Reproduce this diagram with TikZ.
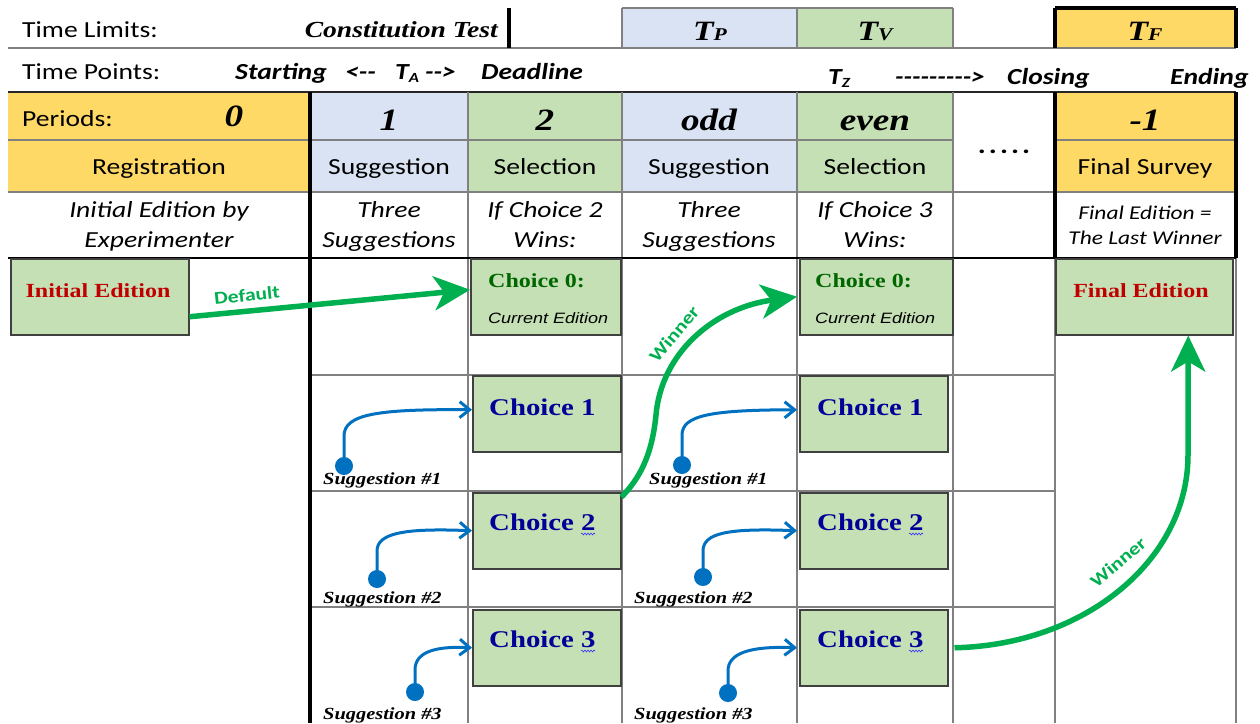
\documentclass[tikz,border=0pt]{standalone}
\usepackage{fontspec}
\usetikzlibrary{arrows.meta,decorations.pathmorphing}
\newfontfamily\calf{Carlito}[FakeStretch=1.2,Ligatures=TeXOff]
\newfontfamily\timf{Liberation Serif}[FakeStretch=1.2]
\newfontfamily\arif{Liberation Sans}[FakeStretch=1.2]
\definecolor{yel}{HTML}{FFD966}
\definecolor{lblue}{HTML}{DAE3F3}
\definecolor{lgreen}{HTML}{C5E0B4}
\definecolor{agreen}{HTML}{00B050}
\definecolor{ablue}{HTML}{0070C0}
\definecolor{navy}{HTML}{000099}
\definecolor{dgreen}{HTML}{006600}
\definecolor{dred}{HTML}{C00000}
\definecolor{gridc}{HTML}{808080}
\newcommand\fs[1]{\fontsize{#1}{#1}\selectfont}
\tikzset{
 txt/.style={inner sep=0pt, anchor=base},
 lt/.style={inner sep=0pt, anchor=base west},
 hdr/.style={txt, font=\calf\fs{23}},
 num/.style={txt, font=\timf\bfseries\itshape\fs{31}},
 desc/.style={txt, font=\calf\itshape\fs{23}},
 tpt/.style={lt, font=\calf\bfseries\itshape\fs{23}},
 gbox/.style={draw=black!75, line width=1.5pt, fill=lgreen, anchor=north west, inner sep=0pt},
 gl/.style={draw=gridc, line width=1.2pt},
 tk/.style={draw=black, line width=3.5pt},
 sug/.style={lt, font=\timf\bfseries\itshape\fs{17}},
 choice/.style={lt, font=\timf\bfseries\fs{24}, text=navy},
 barrow/.style={draw=ablue, line width=3pt, -{Straight Barb[length=10pt,width=16pt]}},
 garrow/.style={draw=agreen, line width=5.5pt, -{Stealth[length=36pt,width=34pt,inset=10pt]}},
 sdot/.style={circle, fill=ablue, inner sep=0pt, minimum size=18pt},
 glab/.style={inner sep=0pt, font=\calf\bfseries\fs{18}, text=agreen},
 squig/.style={draw=blue!80, line width=0.6pt, decorate, decoration={snake, amplitude=0.9pt, segment length=3pt}}
}
\begin{document}
\begin{tikzpicture}[x=1pt,y=-1pt]
\useasboundingbox[fill=white] (0,0) rectangle (1260,723);
% fills
\fill[lblue] (622,8) rectangle (797,48);
\fill[lgreen] (797,8) rectangle (953,48);
\fill[yel] (1055,8) rectangle (1236,48);
\fill[yel] (8,92) rectangle (310,192);
\fill[lblue] (310,92) rectangle (468,192);
\fill[lgreen] (468,92) rectangle (622,192);
\fill[lblue] (622,92) rectangle (797,192);
\fill[lgreen] (797,92) rectangle (953,192);
\fill[yel] (1055,92) rectangle (1236,192);
% grid lines
\draw[gl] (8,48) -- (1236,48);
\draw[gl] (622,8) -- (953,8);
\draw[gl] (622,8) -- (622,48) (797,8) -- (797,48) (953,8) -- (953,48);
\draw[draw=black!85, line width=1.5pt] (8,92) -- (1236,92);
\draw[gl] (8,140) -- (953,140) (1055,140) -- (1236,140);
\draw[gl] (8,192) -- (1236,192);
\draw[gl] (310,375) -- (1055,375) (310,491) -- (1055,491) (310,607) -- (1055,607);
\draw[gl] (468,92) -- (468,723) (622,92) -- (622,723) (797,92) -- (797,723) (953,92) -- (953,723);
\draw[gl] (1055,258) -- (1055,723) (1236,258) -- (1236,723);
\draw[draw=black, line width=2pt] (8,258) -- (1236,258);
\draw[tk] (509,8) -- (509,48);
\draw[tk] (1055,8) -- (1236,8);
\draw[tk] (1055,8) -- (1055,48) (1236,8) -- (1236,48);
\draw[tk] (1055,92) -- (1055,258) (1236,92) -- (1236,258);
\draw[draw=black, line width=4.5pt] (310,92) -- (310,723);
% row 1
\node[lt, font=\calf\fs{23}] (tlim) at (22,37) {Time Limits:};
\node[txt, anchor=base east, font=\timf\bfseries\itshape\fs{23}] (ctest) at (498,37) {Constitution Test};
\node[txt, font=\timf\bfseries\itshape] (tp) at (710,40) {\fs{28}T\fs{18}P};
\node[txt, font=\timf\bfseries\itshape] (tv) at (875,40) {\fs{28}T\fs{18}V};
\node[txt, font=\timf\bfseries\itshape] (tf) at (1145,40) {\fs{28}T\fs{18}F};
% row 2
\node[lt, font=\calf\fs{23}] (tpts) at (22,79) {Time Points:};
\node[tpt] (start) at (235,79) {Starting};
\node[tpt] (larr) at (345,79) {<--};
\node[tpt] (ta) at (395,79) {T\raisebox{-3pt}{\fs{14}A}};
\node[tpt] (rarr) at (425,79) {-->};
\node[tpt] (dead) at (481,79) {Deadline};
\node[tpt] (tz) at (828,84) {T\raisebox{-3pt}{\fs{14}Z}};
\node[tpt] (longarr) at (895,84) {--------->};
\node[tpt] (closing) at (1007,84) {Closing};
\node[tpt] (ending) at (1170,84) {Ending};
% row 3
\node[lt, font=\calf\fs{23}] (periods) at (22,126) {Periods:};
\node[num] (p0) at (234,126) {0};
\node[num] (p1) at (389,130) {1};
\node[num] (p2) at (545,130) {2};
\node[num] (podd) at (709,130) {odd};
\node[num] (peven) at (875,130) {even};
\node[num] (pm1) at (1145,130) {-1};
% row 4
\node[hdr] (reg) at (159,174) {Registration};
\node[hdr] (sg1) at (389,174) {Suggestion};
\node[hdr] (sl2) at (545,174) {Selection};
\node[hdr] (sgo) at (709,174) {Suggestion};
\node[hdr] (sle) at (875,174) {Selection};
\node[txt, font=\calf\bfseries\fs{25}] (dots) at (1004,153) {.\kern3pt.\kern3pt.\kern3pt.\kern3pt.};
\node[hdr] (fsurv) at (1145,174) {Final Survey};
% row 5
\node[desc] (d0a) at (159,217) {Initial Edition by};
\node[desc] (d0b) at (159,247) {Experimenter};
\node[desc] (d1a) at (389,217) {Three};
\node[desc] (d1b) at (389,247) {Suggestions};
\node[desc] (d2a) at (545,217) {If Choice 2};
\node[desc] (d2b) at (545,247) {Wins:};
\node[desc] (d3a) at (709,217) {Three};
\node[desc] (d3b) at (709,247) {Suggestions};
\node[desc] (d4a) at (875,217) {If Choice 3};
\node[desc] (d4b) at (875,247) {Wins:};
\node[txt, font=\calf\itshape\fs{19.5}] (d6a) at (1145,219) {Final Edition =};
\node[txt, font=\calf\itshape\fs{19.5}] (d6b) at (1145,244) {The Last Winner};
% boxes
\node[gbox, minimum width=178pt, minimum height=76pt] (init) at (10,258) {};
\node[gbox, minimum width=150pt, minimum height=76pt] (c0a) at (470,258) {};
\node[gbox, minimum width=148pt, minimum height=76pt] (c1a) at (472,375) {};
\node[gbox, minimum width=148pt, minimum height=76pt] (c2a) at (472,492) {};
\node[gbox, minimum width=148pt, minimum height=76pt] (c3a) at (472,609) {};
\node[gbox, minimum width=153pt, minimum height=76pt] (c0b) at (799,258) {};
\node[gbox, minimum width=148pt, minimum height=76pt] (c1b) at (799,375) {};
\node[gbox, minimum width=148pt, minimum height=76pt] (c2b) at (799,492) {};
\node[gbox, minimum width=148pt, minimum height=76pt] (c3b) at (799,609) {};
\node[gbox, minimum width=177pt, minimum height=76pt] (final) at (1055,258) {};
% box texts
\node[txt, font=\timf\bfseries\fs{20}, text=dred] (tinit) at (98,297) {Initial Edition};
\node[txt, font=\timf\bfseries\fs{20}, text=dred] (tfinal) at (1141,297) {Final Edition};
\node[lt, font=\timf\bfseries\fs{20}, text=dgreen] (t0a) at (488,287) {Choice 0:};
\node[lt, font=\arif\itshape\fs{15}] (e0a) at (488,323) {Current Edition};
\node[lt, font=\timf\bfseries\fs{20}, text=dgreen] (t0b) at (815,287) {Choice 0:};
\node[lt, font=\arif\itshape\fs{15}] (e0b) at (815,323) {Current Edition};
\node[choice] (t1a) at (489,415) {Choice 1};
\node[choice] (t2a) at (489,530) {Choice 2};
\node[choice] (t3a) at (489,647) {Choice 3};
\node[choice] (t1b) at (817,415) {Choice 1};
\node[choice] (t2b) at (817,530) {Choice 2};
\node[choice] (t3b) at (817,647) {Choice 3};
\draw[squig] (581,534) -- (595,534);
\draw[squig] (581,651) -- (595,651);
\draw[squig] (909,534) -- (923,534);
\draw[squig] (909,651) -- (923,651);
% suggestion labels
\node[sug] (s1a) at (323,484) {Suggestion \#1};
\node[sug] (s2a) at (323,603) {Suggestion \#2};
\node[sug] (s3a) at (323,719) {Suggestion \#3};
\node[sug] (s1b) at (649,484) {Suggestion \#1};
\node[sug] (s2b) at (634,603) {Suggestion \#2};
\node[sug] (s3b) at (634,719) {Suggestion \#3};
% dots and blue arrows
\node[sdot] (dt1a) at (344,466) {};
\node[sdot] (dt2a) at (377,579) {};
\node[sdot] (dt3a) at (415,692) {};
\node[sdot] (dt1b) at (682,465) {};
\node[sdot] (dt2b) at (703,577) {};
\node[sdot] (dt3b) at (728,693) {};
\draw[barrow] (dt1a.center) -- ++(0,-30) .. controls +(0,-22) and (378,409) .. ([yshift=4pt]c1a.west);
\draw[barrow] (dt2a.center) -- ++(0,-28) .. controls +(0,-18) and (405,528) .. (c2a.west);
\draw[barrow] (dt3a.center) -- ++(0,-22) .. controls +(0,-18) and (435,646) .. (c3a.west);
\draw[barrow] (dt1b.center) -- ++(0,-30) .. controls +(0,-20) and (712,410) .. ([yshift=4pt,xshift=-2pt]c1b.west);
\draw[barrow] (dt2b.center) -- ++(0,-26) .. controls +(0,-18) and (728,528) .. ([xshift=-2pt]c2b.west);
\draw[barrow] (dt3b.center) -- ++(0,-22) .. controls +(0,-18) and (750,646) .. ([xshift=-2pt]c3b.west);
% green arrows
\draw[garrow] ([yshift=-20pt]init.east) -- ([yshift=7pt]c0a.west);
\node[glab, rotate=6] (ldef) at (247,295) {Default};
\draw[garrow] ([yshift=-5pt]c2a.north east) .. controls (640,478) and (652,455) .. (656,415)
  .. controls (661,355) and (712,308) .. ([xshift=-2pt]c0b.west);
\node[glab, rotate=50] (lwin1) at (674,334) {Winner};
\draw[garrow] ([xshift=6pt]c3b.east) .. controls (1085,645) and (1188,560) .. (1188,455)
  -- ([xshift=44pt]final.south);
\node[glab, rotate=40] (lwin2) at (1118,562) {Winner};
\end{tikzpicture}
\end{document}
